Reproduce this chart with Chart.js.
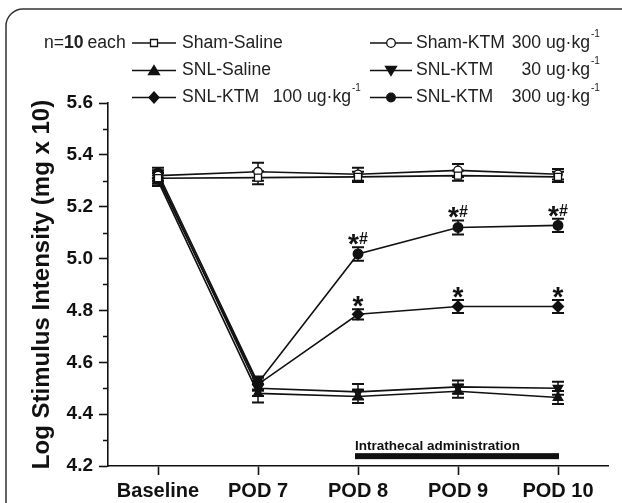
<!DOCTYPE html>
<html>
<head>
<meta charset="utf-8">
<script src="https://cdn.jsdelivr.net/npm/chart.js@4.4.1/dist/chart.umd.min.js"></script>
<style>
  html, body { margin: 0; padding: 0; background: #fff; overflow: hidden; }
  canvas { display: block; }
</style>
</head>
<body>
<canvas id="chart" width="622" height="503"></canvas>
<script>
// data (mean +/- SEM)
const labels = ['Baseline', 'POD 7', 'POD 8', 'POD 9', 'POD 10'];

const shamSaline    = [5.310, 5.312, 5.315, 5.320, 5.315];
const shamSalineSem = [0.020, 0.025, 0.020, 0.020, 0.020];
const shamKtm300    = [5.320, 5.335, 5.325, 5.340, 5.325];
const shamKtm300Sem = [0.020, 0.035, 0.025, 0.025, 0.020];
const snlSaline     = [5.300, 4.480, 4.468, 4.488, 4.464];
const snlSalineSem  = [0.020, 0.035, 0.025, 0.025, 0.025];
const snlKtm30      = [5.320, 4.500, 4.486, 4.505, 4.500];
const snlKtm30Sem   = [0.020, 0.030, 0.030, 0.025, 0.025];
const snlKtm100     = [5.310, 4.515, 4.785, 4.815, 4.815];
const snlKtm100Sem  = [0.020, 0.025, 0.020, 0.025, 0.025];
const snlKtm300     = [5.330, 4.520, 5.018, 5.120, 5.128];
const snlKtm300Sem  = [0.020, 0.025, 0.026, 0.027, 0.026];

const sig100 = ['', '', '*', '*', '*'];
const sig300 = ['', '', '*#', '*#', '*#'];

const yMin = 4.2, yMax = 5.6, yStep = 0.2, yMinor = 0.1;
const adminText = 'Intrathecal administration';
const adminFrom = 2, adminTo = 4, adminLevel = 4.238;

const FONT = '"Liberation Sans", Arial, sans-serif';

function mk(label, dose, data, sem, style, fill, extra) {
  return Object.assign({
    label: label,
    dose: dose,
    data: data,
    sem: sem,
    borderColor: '#111',
    borderWidth: 1.6,
    pointStyle: style,
    pointBackgroundColor: fill,
    pointBorderColor: '#111',
    pointBorderWidth: 1.3,
    pointRadius: 5,
    tension: 0
  }, extra || {});
}

// legend order: row by row, two columns
const datasets = [
  mk('Sham-Saline', '', shamSaline, shamSalineSem, 'rect', '#fff', { pointRadius: 5 }),
  mk('Sham-KTM', '300', shamKtm300, shamKtm300Sem, 'circle', '#fff', { pointRadius: 4.2 }),
  mk('SNL-Saline', '', snlSaline, snlSalineSem, 'triangle', '#111', { pointRadius: 5.5 }),
  mk('SNL-KTM', '30', snlKtm30, snlKtm30Sem, 'triangle', '#111', { pointRadius: 5.5, pointRotation: 180 }),
  mk('SNL-KTM', '100', snlKtm100, snlKtm100Sem, 'rectRot', '#111', { pointRadius: 5.5, sig: sig100 }),
  mk('SNL-KTM', '300', snlKtm300, snlKtm300Sem, 'circle', '#111', { pointRadius: 4.8, sig: sig300 })
];

function marker(ctx, style, x, y, fill, rot) {
  ctx.save();
  ctx.fillStyle = fill;
  ctx.strokeStyle = '#111';
  ctx.lineWidth = 1.3;
  ctx.beginPath();
  if (style === 'circle') {
    ctx.arc(x, y, 4.3, 0, Math.PI * 2);
  } else if (style === 'rect') {
    ctx.rect(x - 3.5, y - 3.5, 7, 7);
  } else if (style === 'rectRot') {
    ctx.moveTo(x, y - 5.5); ctx.lineTo(x + 5, y); ctx.lineTo(x, y + 5.5); ctx.lineTo(x - 5, y);
    ctx.closePath();
  } else if (style === 'triangle') {
    const s = rot ? -1 : 1;
    ctx.moveTo(x, y - 5 * s); ctx.lineTo(x + 5.5, y + 4 * s); ctx.lineTo(x - 5.5, y + 4 * s);
    ctx.closePath();
  }
  ctx.fill();
  ctx.stroke();
  ctx.restore();
}

const framePlugin = {
  id: 'frame',
  beforeDraw(chart) {
    const ctx = chart.ctx;
    ctx.save();
    ctx.strokeStyle = '#333';
    ctx.lineWidth = 1.5;
    ctx.beginPath();
    ctx.moveTo(6, 503);
    ctx.lineTo(6, 26);
    ctx.arcTo(6, 9, 23, 9, 17);
    ctx.lineTo(622, 9);
    ctx.stroke();
    ctx.restore();
  }
};

const errorBars = {
  id: 'errorBars',
  beforeDatasetsDraw(chart) {
    const ctx = chart.ctx;
    const y = chart.scales.y;
    ctx.save();
    ctx.strokeStyle = '#111';
    chart.data.datasets.forEach((ds, i) => {
      const meta = chart.getDatasetMeta(i);
      meta.data.forEach((pt, j) => {
        const top = y.getPixelForValue(ds.data[j] + ds.sem[j]);
        const bot = y.getPixelForValue(ds.data[j] - ds.sem[j]);
        ctx.lineWidth = 1.5;
        ctx.beginPath();
        ctx.moveTo(pt.x, top); ctx.lineTo(pt.x, bot);
        ctx.stroke();
        ctx.lineWidth = 2;
        ctx.beginPath();
        ctx.moveTo(pt.x - 6, top); ctx.lineTo(pt.x + 6, top);
        ctx.moveTo(pt.x - 6, bot); ctx.lineTo(pt.x + 6, bot);
        ctx.stroke();
      });
    });
    ctx.restore();
  },
  afterDatasetsDraw(chart) {
    const ctx = chart.ctx;
    const y = chart.scales.y;
    const x = chart.scales.x;
    ctx.save();
    ctx.fillStyle = '#111';
    // significance marks
    chart.data.datasets.forEach((ds, i) => {
      if (!ds.sig) return;
      const meta = chart.getDatasetMeta(i);
      meta.data.forEach((pt, j) => {
        const s = ds.sig[j];
        if (!s) return;
        const top = y.getPixelForValue(ds.data[j] + ds.sem[j]);
        ctx.textBaseline = 'alphabetic';
        ctx.font = 'bold 28px ' + FONT;
        if (s === '*') {
          ctx.textAlign = 'center';
          ctx.fillText('*', pt.x, top + 6);
        } else {
          ctx.textAlign = 'right';
          ctx.fillText('*', pt.x + 1, top + 6);
          ctx.font = 'bold 16px ' + FONT;
          ctx.textAlign = 'left';
          ctx.fillText('#', pt.x + 1, top - 3);
        }
      });
    });
    // minor y ticks
    ctx.strokeStyle = '#111';
    ctx.lineWidth = 1.5;
    for (let v = yMin + yMinor; v < yMax; v += yStep) {
      const py = Math.round(y.getPixelForValue(v)) + 0.5;
      ctx.beginPath();
      ctx.moveTo(y.right - 5, py); ctx.lineTo(y.right, py);
      ctx.stroke();
    }
    // administration bar
    const x1 = x.getPixelForValue(adminFrom);
    const x2 = x.getPixelForValue(adminTo);
    const by = y.getPixelForValue(adminLevel);
    ctx.fillRect(x1 - 3, by - 3, x2 - x1 + 4, 6);
    ctx.font = 'bold 13.5px ' + FONT;
    ctx.textAlign = 'left';
    ctx.textBaseline = 'alphabetic';
    ctx.fillText(adminText, x1 - 3, by - 6);
    ctx.restore();
  }
};

const legendPlugin = {
  id: 'customLegend',
  afterDraw(chart) {
    const ctx = chart.ctx;
    const rows = [43, 70.5, 97.5];
    const cols = [{ l1: 132, l2: 176, text: 182, doseEnd: 351 }, { l1: 370, l2: 412, text: 416, doseEnd: 590 }];
    const fs = '17.6px ' + FONT;
    ctx.save();
    ctx.fillStyle = '#222';
    ctx.textBaseline = 'middle';
    ctx.font = fs;
    ctx.textAlign = 'left';
    ctx.fillText('n=', 44, rows[0]);
    let w = ctx.measureText('n=').width;
    ctx.font = 'bold ' + fs;
    ctx.fillText('10', 44 + w, rows[0]);
    w += ctx.measureText('10').width;
    ctx.font = fs;
    ctx.fillText(' each', 44 + w - 1, rows[0]);

    chart.data.datasets.forEach((ds, i) => {
      const c = cols[i % 2];
      const ry = rows[Math.floor(i / 2)];
      ctx.strokeStyle = '#111';
      ctx.lineWidth = 1.6;
      ctx.beginPath();
      ctx.moveTo(c.l1, ry); ctx.lineTo(c.l2, ry);
      ctx.stroke();
      marker(ctx, ds.pointStyle, (c.l1 + c.l2) / 2, ry, ds.pointBackgroundColor, ds.pointRotation);
      ctx.fillStyle = '#222';
      ctx.font = fs;
      ctx.textAlign = 'left';
      ctx.fillText(ds.label, c.text, ry);
      if (ds.dose) {
        ctx.textAlign = 'right';
        ctx.fillText(ds.dose + ' ug\u00b7kg', c.doseEnd, ry);
        ctx.font = '10px ' + FONT;
        ctx.textAlign = 'left';
        ctx.fillText('-1', c.doseEnd + 1, ry - 9);
      }
    });
    ctx.restore();
  }
};

new Chart(document.getElementById('chart'), {
  type: 'line',
  data: { labels: labels, datasets: datasets },
  plugins: [framePlugin, errorBars, legendPlugin],
  options: {
    responsive: false,
    animation: false,
    layout: { padding: { top: 103, right: 14, left: 0, bottom: 0 } },
    plugins: { legend: { display: false }, tooltip: { enabled: false } },
    scales: {
      x: {
        type: 'category',
        offset: true,
        afterFit: s => { s.height = 37; },
        border: { color: '#111', width: 1.6 },
        grid: { display: true, drawOnChartArea: false, offset: false, tickLength: 9, color: '#111', tickColor: '#111', tickWidth: 1.6 },
        ticks: { color: '#111', padding: 4, font: { family: FONT, size: 20, weight: 'bold' } }
      },
      y: {
        min: yMin,
        max: yMax,
        afterFit: s => { s.width = 108; },
        border: { color: '#111', width: 1.6 },
        grid: { display: true, drawOnChartArea: false, tickLength: 9, color: '#111', tickColor: '#111', tickWidth: 1.6 },
        ticks: {
          stepSize: yStep,
          color: '#111',
          padding: 6,
          font: { family: FONT, size: 19, weight: 'bold' },
          callback: v => v.toFixed(1)
        },
        title: {
          display: true,
          text: 'Log Stimulus Intensity (mg x 10)',
          color: '#111',
          padding: { top: 28, bottom: 0 },
          font: { family: FONT, size: 24, weight: 'bold' }
        }
      }
    }
  }
});
</script>
</body>
</html>
